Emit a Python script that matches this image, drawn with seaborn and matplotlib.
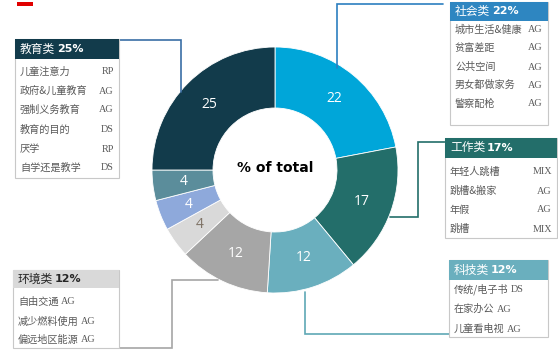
import matplotlib
matplotlib.use("Agg")
import matplotlib.pyplot as plt
import seaborn as sns
import numpy as np
from matplotlib.patches import Rectangle

# wedge values, clockwise from 12 o'clock
values = [22, 17, 12, 12, 4, 4, 4, 25]
colors = ['#00A6D9', '#236E6A', '#6AAFBE', '#A6A6A6', '#D9D9D9', '#8EA9DB', '#5B8D9B', '#123B4B']
label_colors = ['white', 'white', 'white', 'white', '#7F7366', 'white', 'white', 'white']

# legend boxes
soc_name = '社会类'
soc_items = ['城市生活&健康', '贫富差距', '公共空间', '男女都做家务', '警察配枪']
soc_codes = ['AG', 'AG', 'AG', 'AG', 'AG']

work_name = '工作类'
work_items = ['年轻人跳槽', '跳槽&搬家', '年假', '跳槽']
work_codes = ['MIX', 'AG', 'AG', 'MIX']

tech_name = '科技类'
tech_items = ['传统/电子书', '在家办公', '儿童看电视']
tech_codes = ['DS', 'AG', 'AG']

env_name = '环境类'
env_items = ['自由交通', '减少燃料使用', '偏远地区能源']
env_codes = ['AG', 'AG', 'AG']

edu_name = '教育类'
edu_items = ['儿童注意力', '政府&儿童教育', '强制义务教育', '教育的目的', '厌学', '自学还是教学']
edu_codes = ['RP', 'AG', 'AG', 'DS', 'RP', 'DS']

W, H = 558, 358
sns.set_theme(style="white")
plt.rcParams['font.family'] = ['Noto Sans CJK SC', 'DejaVu Sans']

fig = plt.figure(figsize=(W / 100, H / 100), dpi=100)
ax = fig.add_axes([0, 0, 1, 1])


def Y(y):
    return H - y


cx, cy, r_out, r_in = 275, 170, 123, 62
wedges, _ = ax.pie(values, colors=colors, startangle=90, counterclock=False,
                   radius=r_out, center=(cx, Y(cy)),
                   wedgeprops=dict(width=r_out - r_in, edgecolor='white', linewidth=0.6))

# pie resets the limits, so fix the pixel-like frame afterwards
ax.set_xlim(0, W)
ax.set_ylim(0, H)
ax.set_aspect('equal')
ax.axis('off')
renderer = fig.canvas.get_renderer()

for w, v, lc in zip(wedges, values, label_colors):
    ang = np.deg2rad((w.theta1 + w.theta2) / 2)
    rr = (r_out + r_in) / 2
    ax.text(cx + rr * np.cos(ang), Y(cy) + rr * np.sin(ang), str(v),
            ha='center', va='center', fontsize=10, color=lc, family='Open Sans')

ax.text(cx, Y(cy - 2), '% of total', ha='center', va='center', fontsize=10,
        fontweight='bold', color='black', family='DejaVu Sans')

text_gray = '#595959'
border = '#C8C8C8'


def draw_box(x0, x1, y0, yh, y1, head_color, head_text_color, name, pct, items, codes,
             rows_y, inline=False):
    ax.add_patch(Rectangle((x0, Y(y1)), x1 - x0, y1 - y0, facecolor='white',
                           edgecolor=border, linewidth=0.8, zorder=3))
    ax.add_patch(Rectangle((x0, Y(yh)), x1 - x0, yh - y0, facecolor=head_color,
                           edgecolor='none', zorder=4))
    hy = Y((y0 + yh) / 2)
    ax.text(x0 + 5, hy, name, ha='left', va='center', fontsize=8.5,
            color=head_text_color, zorder=5)
    ax.text(x0 + 42, hy, f'{pct}%', ha='left', va='center', fontsize=8,
            fontweight='bold', color=head_text_color, zorder=5, family='DejaVu Sans')
    for it, cd, ry in zip(items, codes, rows_y):
        t = ax.text(x0 + 5, Y(ry), it, ha='left', va='center', fontsize=7.3,
                    color=text_gray, zorder=5)
        if inline:
            ext = t.get_window_extent(renderer=renderer)
            xe = ax.transData.inverted().transform((ext.x1, 0))[0]
            ax.text(xe + 2, Y(ry), cd, ha='left', va='center', fontsize=7.3,
                    color=text_gray, family='Liberation Serif', zorder=5)
        else:
            ax.text(x1 - 5, Y(ry), cd, ha='right', va='center', fontsize=7.3,
                    color=text_gray, family='Liberation Serif', zorder=5)


def connector(pts, color):
    ax.plot([p[0] for p in pts], [Y(p[1]) for p in pts], color=color,
            linewidth=1.2, solid_joinstyle='miter', zorder=2)


draw_box(450, 548, 2, 21, 125, '#2E86C1', 'white', soc_name, values[0],
         soc_items, soc_codes, [30, 48, 67, 85, 104])
draw_box(445, 557, 138, 158, 238, colors[1], 'white', work_name, values[1],
         work_items, work_codes, [172, 191, 210, 229])
draw_box(449, 548, 260, 280, 337, colors[2], 'white', tech_name, values[2],
         tech_items, tech_codes, [289, 309, 329], inline=True)
draw_box(13, 119, 270, 288, 348, '#D9D9D9', '#262626', env_name, values[3],
         env_items, env_codes, [302, 322, 340], inline=True)
draw_box(15, 119, 39, 59, 178, colors[7], 'white', edu_name, values[7],
         edu_items, edu_codes, [72, 91, 110, 130, 149, 168])

connector([(337, 68), (337, 4), (443, 4)], '#2C7FC0')
connector([(390, 217), (418, 217), (418, 142), (445, 142)], colors[1])
connector([(305, 292), (305, 334), (449, 334)], '#5FA8B5')
connector([(119, 348), (172, 348), (172, 280), (218, 280)], '#A6A6A6')
connector([(119, 40), (181, 40), (181, 92)], '#3A6EA5')

# small red mark top-left
ax.add_patch(Rectangle((17, Y(6)), 16, 4, facecolor='#E00000', edgecolor='none'))

fig.savefig('out.png', dpi=100)
plt.close()
